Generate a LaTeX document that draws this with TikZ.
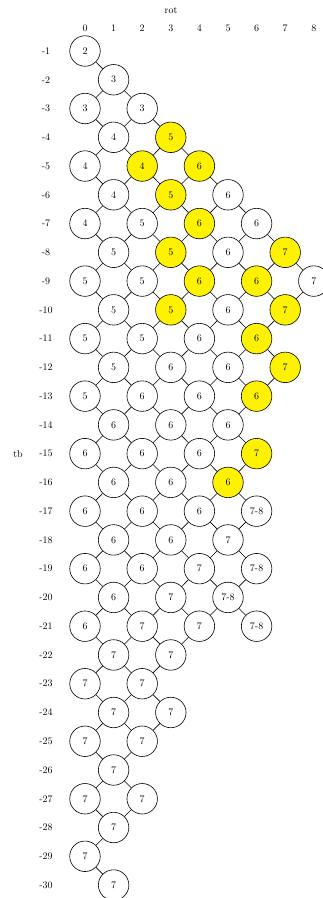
\documentclass[tikz,border=0pt]{standalone}
\begin{document}
\begin{tikzpicture}[x=1pt,y=1pt,
  st/.style={circle,draw,line width=0.6pt,minimum size=30.5pt,inner sep=0pt},
  ed/.style={line width=0.6pt},
  lab/.style={inner sep=0pt}]
\useasboundingbox (0,0) rectangle (323,-898);
\clip (0,0) rectangle (323,-898);
\node[lab] (rot) at (171,-10) {rot};
\node[lab] (tb) at (18,-454) {tb};
\foreach \c in {0,...,8} \node[lab] (cl\c) at ({85+28.6*\c},-28) {\c};
\foreach \r in {1,...,30} \node[lab] (rl\r) at (46,{-51-28.76*(\r-1)}) {-\r};
\foreach \r/\c/\t/\f in {
 1/0/2/white,
 2/1/3/white,
 3/0/3/white, 3/2/3/white,
 4/1/4/white, 4/3/5/yellow,
 5/0/4/white, 5/2/4/yellow, 5/4/6/yellow,
 6/1/4/white, 6/3/5/yellow, 6/5/6/white,
 7/0/4/white, 7/2/5/white, 7/4/6/yellow, 7/6/6/white,
 8/1/5/white, 8/3/5/yellow, 8/5/6/white, 8/7/7/yellow,
 9/0/5/white, 9/2/5/white, 9/4/6/yellow, 9/6/6/yellow, 9/8/7/white,
 10/1/5/white, 10/3/5/yellow, 10/5/6/white, 10/7/7/yellow,
 11/0/5/white, 11/2/5/white, 11/4/6/white, 11/6/6/yellow,
 12/1/5/white, 12/3/6/white, 12/5/6/white, 12/7/7/yellow,
 13/0/5/white, 13/2/6/white, 13/4/6/white, 13/6/6/yellow,
 14/1/6/white, 14/3/6/white, 14/5/6/white,
 15/0/6/white, 15/2/6/white, 15/4/6/white, 15/6/7/yellow,
 16/1/6/white, 16/3/6/white, 16/5/6/yellow,
 17/0/6/white, 17/2/6/white, 17/4/6/white, 17/6/7-8/white,
 18/1/6/white, 18/3/6/white, 18/5/7/white,
 19/0/6/white, 19/2/6/white, 19/4/7/white, 19/6/7-8/white,
 20/1/6/white, 20/3/7/white, 20/5/7-8/white,
 21/0/6/white, 21/2/7/white, 21/4/7/white, 21/6/7-8/white,
 22/1/7/white, 22/3/7/white,
 23/0/7/white, 23/2/7/white,
 24/1/7/white, 24/3/7/white,
 25/0/7/white, 25/2/7/white,
 26/1/7/white,
 27/0/7/white, 27/2/7/white,
 28/1/7/white,
 29/0/7/white,
 30/1/7/white}
 \node[st,fill=\f] (n-\r-\c) at ({85+28.6*\c},{-51-28.76*(\r-1)}) {\t};
\foreach \r in {1,...,29} {
  \pgfmathtruncatemacro\rn{\r+1}
  \foreach \c in {0,...,8} {
    \foreach \d in {-1,1} {
      \pgfmathtruncatemacro\cn{\c+\d}
      \ifcsname pgf@sh@ns@n-\r-\c\endcsname
        \ifcsname pgf@sh@ns@n-\rn-\cn\endcsname
          \draw[ed] (n-\r-\c) -- (n-\rn-\cn);
        \fi
      \fi
    }
  }
}
\end{tikzpicture}
\end{document}
